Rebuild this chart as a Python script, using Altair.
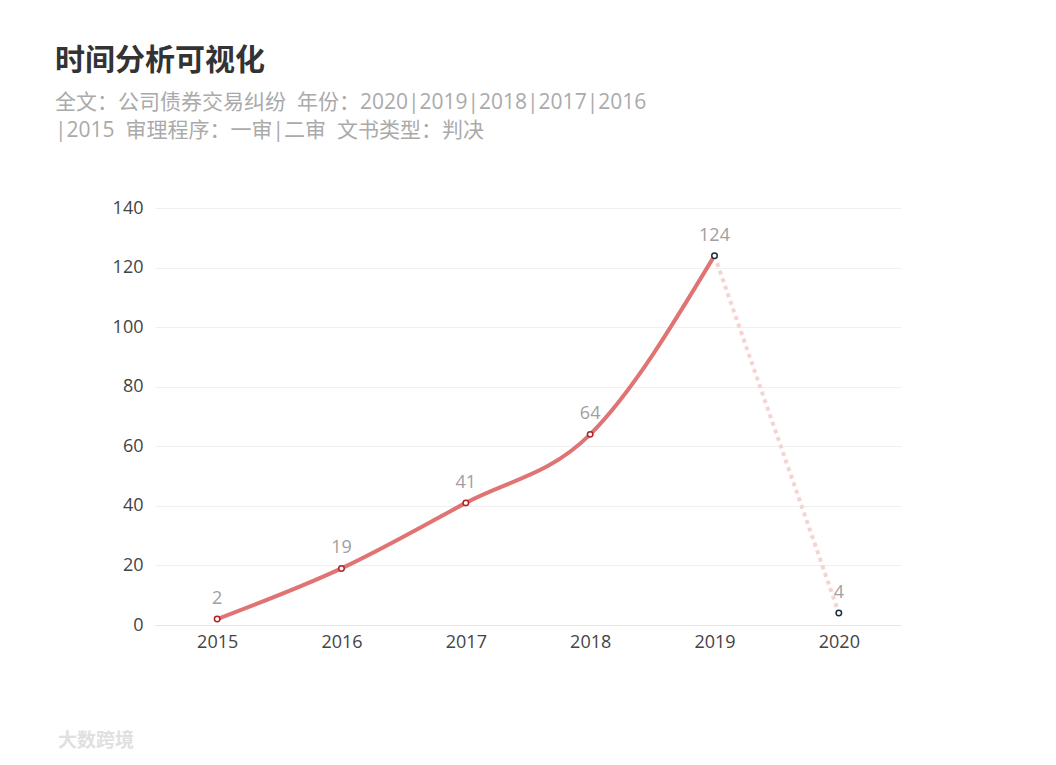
import altair as alt
import pandas as pd

years = ["2015", "2016", "2017", "2018", "2019", "2020"]
counts = [2, 19, 41, 64, 124, 4]
segment = ["solid", "solid", "solid", "solid", "both", "dashed"]
point_group = ["past", "past", "past", "past", "recent", "recent"]

df = pd.DataFrame({"year": years, "count": counts, "seg": segment, "grp": point_group})

FONT = "Open Sans, Noto Sans CJK SC"
CJK = "Noto Sans CJK SC"
SP = "\u00a0\u00a0"

x = alt.X("year:O", sort=years,
          scale=alt.Scale(type="point", padding=0.5),
          axis=alt.Axis(title=None, labelAngle=0, labelFontSize=18, labelColor="#444",
                        labelFont=FONT, ticks=False, domainColor="#e6e6e6",
                        labelPadding=8, grid=False))
y = alt.Y("count:Q", scale=alt.Scale(domain=[0, 140], nice=False),
          axis=alt.Axis(title=None, values=[0, 20, 40, 60, 80, 100, 120, 140],
                        labelFontSize=18, labelColor="#444", labelFont=FONT,
                        ticks=False, domain=False, gridColor="#f0f0f0",
                        labelPadding=12))

base = alt.Chart(df)

solid = base.transform_filter("datum.seg != 'dashed'").mark_line(
    interpolate="monotone", color="#e07373", strokeWidth=4
).encode(x=x, y=y)

dashed = base.transform_filter("datum.seg != 'solid'").mark_line(
    color="#f6d3d3", strokeWidth=4, strokeDash=[4, 4]
).encode(x=x, y=y)

points = base.mark_point(filled=True, fill="white", size=30, strokeWidth=1.5, opacity=1).encode(
    x=x, y=y,
    stroke=alt.Stroke("grp:N", scale=alt.Scale(domain=["past", "recent"], range=["#b22222", "#1f2d3d"]),
                      legend=None)
)

labels = base.mark_text(dy=-20, fontSize=18, color="#a0a0a0", font=FONT).encode(
    x=x, y=y, text="count:Q"
)

watermark = alt.Chart(pd.DataFrame({"t": ["大数跨境"]})).mark_text(
    fontSize=19, color="#e0e0e0", font=CJK, align="left", baseline="middle", fontWeight="bold"
).encode(x=alt.value(-97), y=alt.value(533), text="t:N")

chart = alt.layer(solid, dashed, points, labels, watermark).properties(
    width=746, height=417,
    autosize=alt.AutoSizeParams(type="none"),
    padding={"left": 147, "top": 200, "right": 10, "bottom": 135},
    title=alt.TitleParams(
        text="时间分析可视化",
        subtitle=["全文：公司债券交易纠纷" + SP + "年份：2020|2019|2018|2017|2016",
                  "|2015" + SP + "审理程序：一审|二审" + SP + "文书类型：判决"],
        anchor="start", frame="group", dx=-100, offset=58,
        font=CJK, fontSize=30, fontWeight="bold", color="#333",
        subtitleFont=FONT, subtitleFontSize=21, subtitleColor="#aaaaaa",
        subtitleLineHeight=28, subtitlePadding=16,
    ),
).configure_view(stroke=None)

chart.save("out.html", embed_options={"renderer": "svg", "actions": False})
